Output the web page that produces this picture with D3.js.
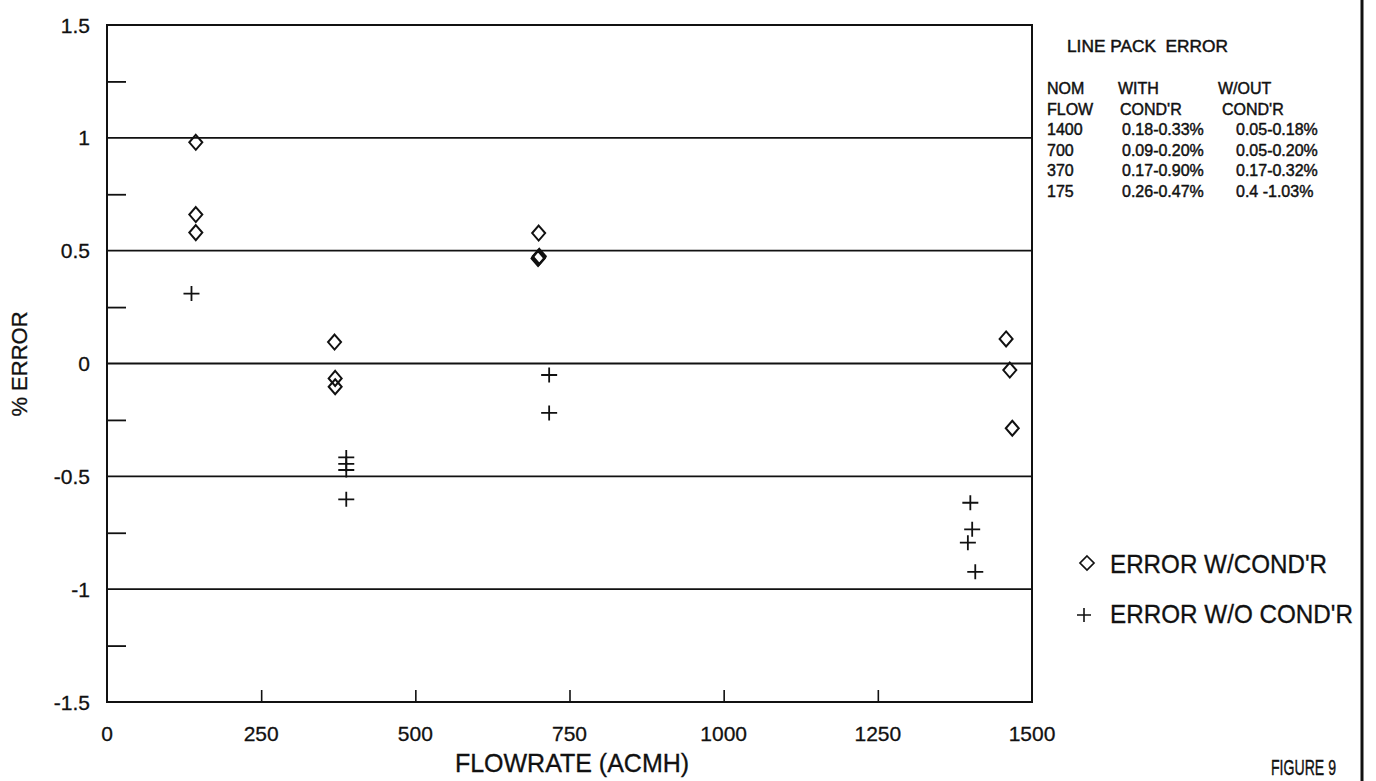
<!DOCTYPE html>
<html>
<head>
<meta charset="utf-8">
<script src="https://cdn.jsdelivr.net/npm/d3@7"></script>
<style>
  html, body { margin: 0; padding: 0; background: #fff; }
  svg { display: block; font-family: "Liberation Sans", Arial, sans-serif; }
</style>
</head>
<body>
<svg id="chart" width="1376" height="781"></svg>
<script>
// ---------- data ----------
const withCondFlow = [144, 144, 144, 369, 370, 370, 699, 700, 701, 700, 1458, 1464, 1468];
const withCondErr  = [0.98, 0.66, 0.58, 0.095, -0.066, -0.103, 0.465, 0.47, 0.475, 0.578, 0.109, -0.029, -0.287];
const withoutCondFlow = [137, 388, 388, 388, 388, 717, 717, 1400, 1403, 1396, 1408];
const withoutCondErr  = [0.31, -0.416, -0.445, -0.472, -0.602, -0.051, -0.219, -0.617, -0.735, -0.794, -0.923];

const xTickValues = [0, 250, 500, 750, 1000, 1250, 1500];
const yTickValues = [-1.5, -1, -0.5, 0, 0.5, 1, 1.5];
const yMinorTicks = [-1.25, -0.75, -0.25, 0.25, 0.75, 1.25];
const gridValues = [-1, -0.5, 0, 0.5, 1];

const tableTitle = "LINE PACK  ERROR";
const tableHeader1 = ["NOM", "WITH", "W/OUT"];
const tableHeader2 = ["FLOW", "COND'R", "COND'R"];
const nomFlow = ["1400", "700", "370", "175"];
const rangeWith = ["0.18-0.33%", "0.09-0.20%", "0.17-0.90%", "0.26-0.47%"];
const rangeWithout = ["0.05-0.18%", "0.05-0.20%", "0.17-0.32%", "0.4 -1.03%"];

const legendLabels = ["ERROR W/COND'R", "ERROR W/O COND'R"];

// ---------- layout ----------
const svg = d3.select("#chart");
const ink = "#111";
const x = d3.scaleLinear().domain([0, 1500]).range([107, 1032]);
const y = d3.scaleLinear().domain([-1.5, 1.5]).range([702, 25]);

// page border on the right
svg.append("line").attr("x1", 1362).attr("x2", 1362).attr("y1", 0).attr("y2", 781)
  .attr("stroke", ink).attr("stroke-width", 3);

// grid lines
svg.append("g").selectAll("line").data(gridValues).join("line")
  .attr("x1", x(0)).attr("x2", x(1500))
  .attr("y1", d => y(d)).attr("y2", d => y(d))
  .attr("stroke", ink).attr("stroke-width", 1.8);

// frame
svg.append("rect")
  .attr("x", x(0)).attr("y", y(1.5))
  .attr("width", x(1500) - x(0)).attr("height", y(-1.5) - y(1.5))
  .attr("fill", "none").attr("stroke", ink).attr("stroke-width", 2);

// x axis (inward ticks)
const xAxis = d3.axisTop(x).tickValues(xTickValues).tickSize(12).tickFormat("");
const xg = svg.append("g").attr("transform", `translate(0,${y(-1.5)})`).call(xAxis);
xg.select(".domain").remove();
xg.selectAll(".tick line").attr("stroke", ink).attr("stroke-width", 1.6);
xg.selectAll(".tick").filter(d => d === 0 || d === 1500).select("line").remove();
svg.append("g").selectAll("text").data(xTickValues).join("text")
  .attr("x", d => x(d)).attr("y", 741)
  .attr("text-anchor", "middle").attr("font-size", 21).attr("fill", ink)
  .attr("stroke", ink).attr("stroke-width", 0.3)
  .text(d => d);

// y axis minor ticks (inward)
const yAxis = d3.axisRight(y).tickValues(yMinorTicks).tickSize(19).tickFormat("");
const yg = svg.append("g").attr("transform", `translate(${x(0)},0)`).call(yAxis);
yg.select(".domain").remove();
yg.selectAll(".tick line").attr("stroke", ink).attr("stroke-width", 1.8);
svg.append("g").selectAll("text").data(yTickValues).join("text")
  .attr("x", 90).attr("y", d => y(d)).attr("dy", "0.36em")
  .attr("text-anchor", "end").attr("font-size", 21).attr("fill", ink)
  .attr("stroke", ink).attr("stroke-width", 0.3)
  .text(d => d);

// axis titles
svg.append("text").attr("x", 572).attr("y", 772)
  .attr("text-anchor", "middle").attr("font-size", 25).attr("fill", ink)
  .attr("stroke", ink).attr("stroke-width", 0.3)
  .text("FLOWRATE (ACMH)");
svg.append("text").attr("transform", "translate(27,364) rotate(-90)")
  .attr("text-anchor", "middle").attr("font-size", 22).attr("fill", ink)
  .attr("stroke", ink).attr("stroke-width", 0.3)
  .text("% ERROR");

svg.append("text").attr("x", 1271).attr("y", 775)
  .attr("font-size", 22).attr("fill", ink)
  .attr("stroke", ink).attr("stroke-width", 0.4)
  .attr("textLength", 65).attr("lengthAdjust", "spacingAndGlyphs")
  .text("FIGURE 9");

// markers
const diamondPath = "M0,-7.5L6.5,0L0,7.5L-6.5,0Z";
const plusPath = "M-8,0H8M0,-7.5V7.5";

svg.append("g").selectAll("path").data(d3.range(withCondFlow.length)).join("path")
  .attr("transform", i => `translate(${x(withCondFlow[i])},${y(withCondErr[i])})`)
  .attr("d", diamondPath).attr("fill", "none").attr("stroke", ink).attr("stroke-width", 2);

svg.append("g").selectAll("path").data(d3.range(withoutCondFlow.length)).join("path")
  .attr("transform", i => `translate(${x(withoutCondFlow[i])},${y(withoutCondErr[i])})`)
  .attr("d", plusPath).attr("fill", "none").attr("stroke", ink).attr("stroke-width", 1.8);

// legend
const legend = svg.append("g");
legend.append("path").attr("transform", "translate(1087,563)")
  .attr("d", "M0,-7L7,0L0,7L-7,0Z").attr("fill", "none").attr("stroke", ink).attr("stroke-width", 1.7);
legend.append("path").attr("transform", "translate(1084,615)")
  .attr("d", "M-7,0H7M0,-7V7").attr("fill", "none").attr("stroke", ink).attr("stroke-width", 1.6);
legend.selectAll("text").data(legendLabels).join("text")
  .attr("x", 1110).attr("y", (d, i) => i === 0 ? 573 : 623)
  .attr("font-size", 25).attr("fill", ink)
  .attr("stroke", ink).attr("stroke-width", 0.3)
  .attr("textLength", (d, i) => i === 0 ? 217 : 243).attr("lengthAdjust", "spacingAndGlyphs")
  .text(d => d);

// table of line pack errors
const tbl = svg.append("g").attr("font-size", 16).attr("fill", ink)
  .attr("stroke", ink).attr("stroke-width", 0.45);
tbl.append("text").attr("x", 1067).attr("y", 52).attr("textLength", 161)
  .attr("lengthAdjust", "spacingAndGlyphs").attr("xml:space", "preserve").text(tableTitle);
const colX1 = [1047, 1118, 1218];
const colX2 = [1047, 1120, 1222];
tbl.selectAll(".h1").data(tableHeader1).join("text").attr("class", "h1")
  .attr("x", (d, i) => colX1[i]).attr("y", 94).text(d => d);
tbl.selectAll(".h2").data(tableHeader2).join("text").attr("class", "h2")
  .attr("x", (d, i) => colX2[i]).attr("y", 114.5).text(d => d);
const rowY = [135, 155.5, 176, 197];
tbl.selectAll(".c1").data(nomFlow).join("text").attr("class", "c1")
  .attr("x", 1047).attr("y", (d, i) => rowY[i]).text(d => d);
tbl.selectAll(".c2").data(rangeWith).join("text").attr("class", "c2")
  .attr("x", 1122).attr("y", (d, i) => rowY[i]).attr("xml:space", "preserve").text(d => d);
tbl.selectAll(".c3").data(rangeWithout).join("text").attr("class", "c3")
  .attr("x", 1236).attr("y", (d, i) => rowY[i]).attr("xml:space", "preserve").text(d => d);
</script>
</body>
</html>
